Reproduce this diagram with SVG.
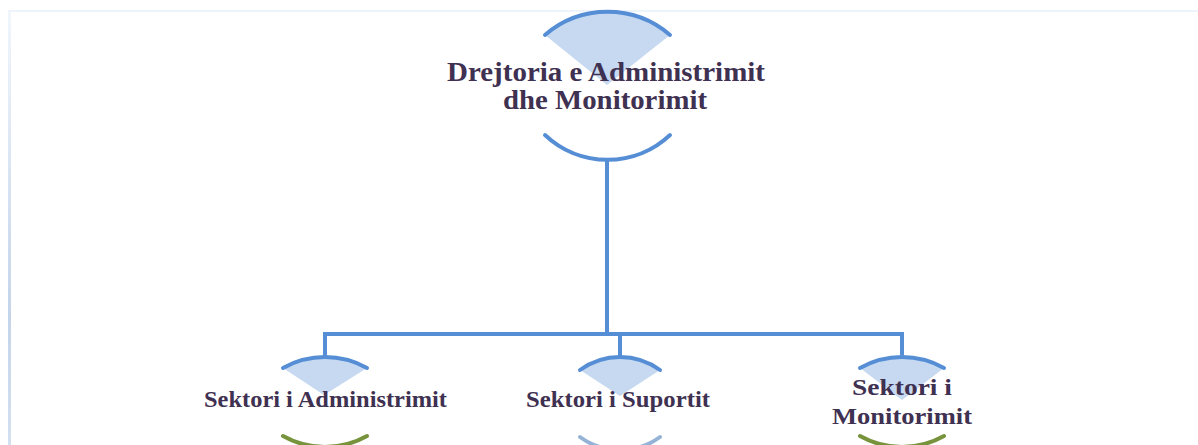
<svg xmlns="http://www.w3.org/2000/svg" width="1198" height="445" viewBox="0 0 1198 445">
  <defs>
    <linearGradient id="leftEdge" x1="0" y1="0" x2="0" y2="1">
      <stop offset="0" stop-color="#F1F6FC"/>
      <stop offset="0.7" stop-color="#C4D4EA"/>
      <stop offset="1" stop-color="#D3E0F0"/>
    </linearGradient>
  </defs>
  <style>
    .fan { fill: #C6D9F1; stroke: none; }
    .arc { fill: none; stroke: #558ED5; stroke-width: 4; stroke-linecap: round; }
    .arcG { fill: none; stroke: #77933C; stroke-width: 4; stroke-linecap: round; }
    .arcL { fill: none; stroke: #95B3D7; stroke-width: 4; stroke-linecap: round; }
    .conn { fill: none; stroke: #558ED5; stroke-width: 4; }
    .lbl { font-family: "Liberation Serif", "Times New Roman", serif; font-weight: bold; fill: #3F3151; text-anchor: middle; }
  </style>
  <rect x="0" y="0" width="1198" height="445" fill="#FFFFFF"/>
  <!-- frame -->
  <rect x="8" y="10" width="1190" height="2" fill="#EEF4FB"/>
  <rect x="8" y="11" width="3" height="434" fill="url(#leftEdge)"/>

  <g id="connectors">
    <path class="conn" d="M607 160 V334"/>
    <path class="conn" d="M325 357 V334 H902 V355"/>
    <path class="conn" d="M620 334 V357"/>
  </g>

  <g id="node-drejtoria">
    <path class="fan" d="M545 35 A96 96 0 0 1 670 35 L607 85 Z"/>
    <path class="arc" d="M545 35 A96 96 0 0 1 670 35"/>
    <path class="arc" d="M545 135 A91 91 0 0 0 670 135"/>
    <text class="lbl" x="606" y="81" font-size="28" textLength="318" lengthAdjust="spacingAndGlyphs">Drejtoria  e Administrimit</text>
    <text class="lbl" x="605" y="109" font-size="28" textLength="204" lengthAdjust="spacingAndGlyphs">dhe Monitorimit</text>
  </g>

  <g id="node-administrimit">
    <path class="fan" d="M283 368 A86 86 0 0 1 367 368 L324 395 Z"/>
    <path class="arc" d="M283 368 A86 86 0 0 1 367 368"/>
    <path class="arcG" d="M283 436 A86 86 0 0 0 367 436"/>
    <text class="lbl" x="325.5" y="407" font-size="23" textLength="243" lengthAdjust="spacingAndGlyphs">Sektori i Administrimit</text>
  </g>

  <g id="node-suportit">
    <path class="fan" d="M580 370 A68 68 0 0 1 660 370 L620 396 Z"/>
    <path class="arc" d="M580 370 A68 68 0 0 1 660 370"/>
    <path class="arcL" d="M580 437 A68 68 0 0 0 660 437"/>
    <text class="lbl" x="618" y="407" font-size="23" textLength="184" lengthAdjust="spacingAndGlyphs">Sektori i Suportit</text>
  </g>

  <g id="node-monitorimit">
    <path class="fan" d="M860 368 A86 86 0 0 1 944 368 L902 400 Z"/>
    <path class="arc" d="M860 368 A86 86 0 0 1 944 368"/>
    <path class="arcG" d="M860 436 A86 86 0 0 0 944 436"/>
    <text class="lbl" x="902" y="395" font-size="24" textLength="100" lengthAdjust="spacingAndGlyphs">Sektori i</text>
    <text class="lbl" x="902" y="424" font-size="24" textLength="140" lengthAdjust="spacingAndGlyphs">Monitorimit</text>
  </g>
</svg>
